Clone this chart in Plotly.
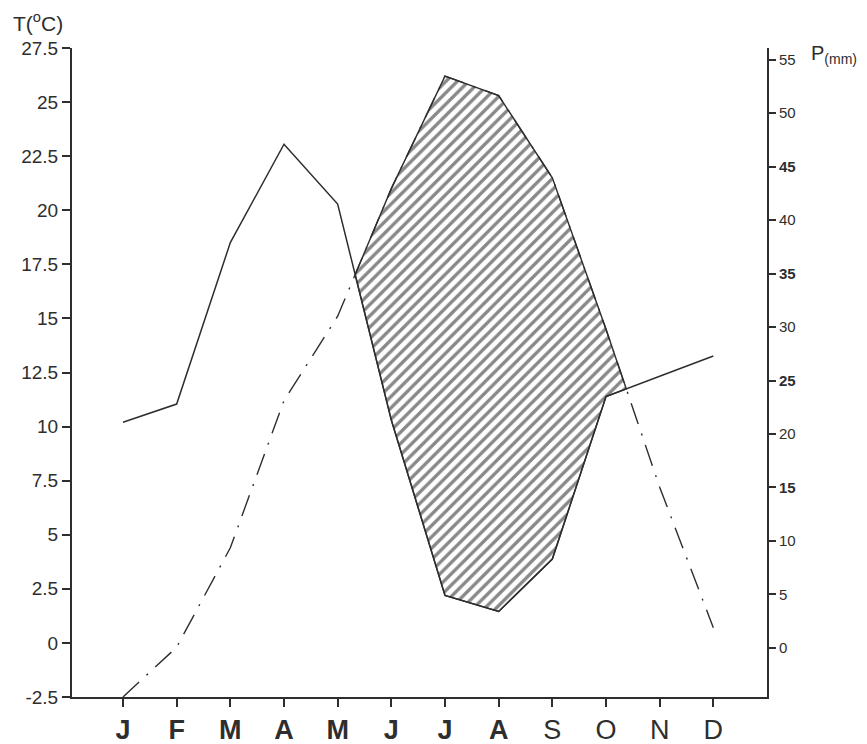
import plotly.graph_objects as go

# ---- data ----
months = ["J", "F", "M", "A", "M", "J", "J", "A", "S", "O", "N", "D"]
month_pos = [1, 2, 3, 4, 5, 6, 7, 8, 9, 10, 11, 12]
temperature_c = [-2.5, -0.2, 4.4, 11.2, 15.1, 21.0, 26.2, 25.3, 21.5, 14.5, 7.2, 0.7]
precip_mm = [21.1, 22.8, 37.9, 47.1, 41.5, 21.3, 4.9, 3.4, 8.3, 23.5, 25.4, 27.3]

t_ticks = [-2.5, 0, 2.5, 5, 7.5, 10, 12.5, 15, 17.5, 20, 22.5, 25, 27.5]
t_tick_text = ["-2.5", "0", "2.5", "5", "7.5", "10", "12.5", "15", "17.5", "20", "22.5", "25", "27.5"]
p_ticks = [0, 5, 10, 15, 20, 25, 30, 35, 40, 45, 50, 55]
p_tick_text = ["0", "5", "10", "<b>15</b>", "20", "<b>25</b>", "30", "<b>35</b>", "40", "<b>45</b>", "50", "55"]
month_tick_text = ["<b>J</b>", "<b>F</b>", "<b>M</b>", "<b>A</b>", "<b>M</b>", "<b>J</b>", "<b>J</b>", "<b>A</b>",
                   "S", "O", "N", "D"]

T_RANGE = [-2.5, 27.5]
P_RANGE = [-4.6, 56.1]
X_RANGE = [0.05, 13.0]

INK = "#2e2e2e"
FONT = "Liberation Sans, Arial, sans-serif"


def p_on_t_scale(p):
    """Map a precipitation value onto the temperature axis through the two axis ranges."""
    return T_RANGE[0] + (p - P_RANGE[0]) * (T_RANGE[1] - T_RANGE[0]) / (P_RANGE[1] - P_RANGE[0])


# ---- dry-period polygon (temperature curve above precipitation curve) ----
pt = [p_on_t_scale(p) for p in precip_mm]
diff = [t - p for t, p in zip(temperature_c, pt)]
upper, lower = [], []
for i in range(len(month_pos)):
    if diff[i] > 0:
        upper.append((month_pos[i], temperature_c[i]))
        lower.append((month_pos[i], pt[i]))
    if i < len(month_pos) - 1 and diff[i] * diff[i + 1] < 0:
        f = diff[i] / (diff[i] - diff[i + 1])
        xc = month_pos[i] + f * (month_pos[i + 1] - month_pos[i])
        yc = temperature_c[i] + f * (temperature_c[i + 1] - temperature_c[i])
        upper.append((xc, yc))
        lower.append((xc, yc))
poly = upper + lower[::-1]
poly.append(poly[0])

fig = go.Figure()

fig.add_trace(go.Scatter(
    x=[p[0] for p in poly], y=[p[1] for p in poly],
    mode="lines", fill="toself",
    fillcolor="white",
    fillpattern=dict(shape="/", size=8, solidity=0.42, fgcolor="#111111", bgcolor="white"),
    line=dict(color=INK, width=1.4),
    hoverinfo="skip", showlegend=False,
))

fig.add_trace(go.Scatter(
    x=month_pos, y=temperature_c, mode="lines",
    line=dict(color=INK, width=1.4, dash="22px,10px,2px,10px"),
    showlegend=False, name="T",
))

fig.add_trace(go.Scatter(
    x=month_pos, y=precip_mm, mode="lines", yaxis="y2",
    line=dict(color=INK, width=1.5),
    showlegend=False, name="P",
))

fig.update_layout(
    width=859, height=736,
    margin=dict(l=64, r=100, t=40, b=47),
    paper_bgcolor="white", plot_bgcolor="white",
    xaxis=dict(
        range=X_RANGE, tickmode="array", tickvals=month_pos, ticktext=month_tick_text,
        showgrid=False, zeroline=False, showline=True, linecolor=INK, linewidth=2,
        ticks="outside", ticklen=8, tickwidth=1.5, tickcolor=INK, automargin=False,
        tickfont=dict(family=FONT, size=27, color=INK),
    ),
    yaxis=dict(
        range=T_RANGE, tickmode="array", tickvals=t_ticks, ticktext=t_tick_text,
        showgrid=False, zeroline=False, showline=True, linecolor=INK, linewidth=2,
        ticks="outside", ticklen=8, tickwidth=1.5, tickcolor=INK, automargin=False,
        tickfont=dict(family=FONT, size=19, color=INK),
    ),
    yaxis2=dict(
        range=P_RANGE, overlaying="y", side="right", tickmode="array",
        tickvals=p_ticks, ticktext=p_tick_text,
        showgrid=False, zeroline=False, showline=True, linecolor=INK, linewidth=2,
        ticks="outside", ticklen=7, tickwidth=1.5, tickcolor=INK, automargin=False,
        tickfont=dict(family=FONT, size=15, color=INK),
    ),
    annotations=[
        dict(text="T(<sup>o</sup>C)", xref="paper", yref="paper", x=-0.088, y=1.04,
             xanchor="left", yanchor="middle", showarrow=False,
             font=dict(family=FONT, size=21, color=INK)),
        dict(text="P<sub>(mm)</sub>", xref="paper", yref="paper", x=1.06, y=0.99,
             xanchor="left", yanchor="middle", showarrow=False,
             font=dict(family=FONT, size=20, color=INK)),
    ],
)

fig.write_html("out.html")
